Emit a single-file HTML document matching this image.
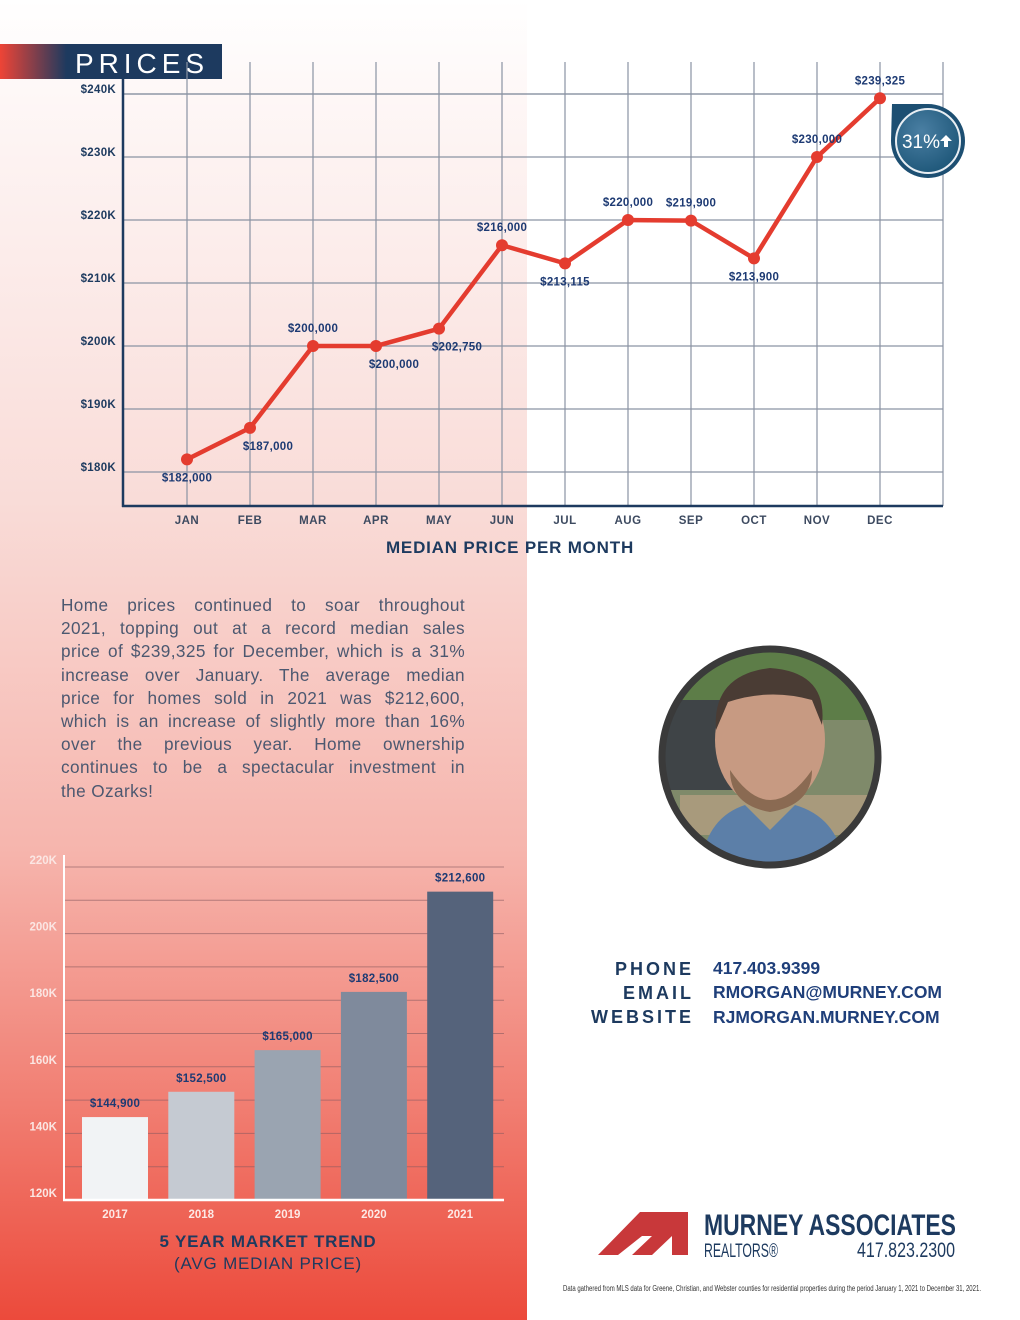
<!DOCTYPE html>
<html><head><meta charset="utf-8"><style>
body{margin:0;width:1020px;height:1320px;position:relative;background:#fff;font-family:"Liberation Sans",sans-serif;overflow:hidden}
#bg{position:absolute;left:0;top:0;width:527px;height:1320px;background:linear-gradient(to bottom,#ffffff 0px,#fdf3f2 150px,#f9dcd8 500px,#f6b5ad 850px,#f17f73 1100px,#ec4a3b 1320px)}
svg{position:absolute;left:0;top:0}
#para{position:absolute;left:61px;top:594px;width:404px;font-size:17.2px;line-height:23.2px;color:#4c5870;letter-spacing:0.4px}
#para div{text-align:justify;text-align-last:justify;white-space:nowrap;height:23.2px}
#para div.last{text-align-last:left}
.lab{position:absolute;font-weight:bold;color:#1d3a5f;font-size:18px;letter-spacing:3px;text-align:right;width:200px;left:494px}
.val{position:absolute;left:713px;font-weight:bold;color:#1f3f7a;font-size:17.5px}
</style></head><body>
<div id="bg"></div>
<svg width="1020" height="1320" id="svg">
<defs><linearGradient id="hg" x1="0" x2="1"><stop offset="0" stop-color="#ee4436"/><stop offset="0.3" stop-color="#1d3a5f"/><stop offset="1" stop-color="#1d3a5f"/></linearGradient>
<radialGradient id="bd" cx="0.4" cy="0.35" r="0.7"><stop offset="0" stop-color="#4a7fa3"/><stop offset="1" stop-color="#1d5678"/></radialGradient></defs>
<rect x="0" y="44" width="222" height="35" fill="url(#hg)"/>
<text x="75" y="73" font-size="28" fill="#fff" letter-spacing="4" font-family="Liberation Sans" textLength="133" lengthAdjust="spacing">PRICES</text>
<g id="line-chart"></g>
<g id="bar-chart"></g>
<g>
<path d="M892,104 L928,104 A37,37 0 1 1 891,141 Z" fill="#1d4f72"/>
<circle cx="928" cy="141" r="32" fill="url(#bd)" stroke="#e8eef3" stroke-width="2"/>
<text x="921" y="148" font-size="19" fill="#fff" text-anchor="middle" font-family="Liberation Sans">31%</text>
<path d="M946,135 l-6,6 h4 v6 h4 v-6 h4 z" fill="#fff"/>
</g>
<g>
<clipPath id="pc"><circle cx="770" cy="757" r="105"/></clipPath>
<g clip-path="url(#pc)">
<rect x="660" y="650" width="220" height="220" fill="#7f8a6a"/>
<rect x="660" y="650" width="220" height="70" fill="#5d7d48"/>
<rect x="665" y="700" width="70" height="90" fill="#3f4447"/>
<rect x="680" y="795" width="200" height="40" fill="#a89a7c"/>
<ellipse cx="770" cy="740" rx="55" ry="68" fill="#c79a82"/>
<path d="M716,730 Q712,675 770,668 Q828,672 822,725 L812,700 Q770,688 728,702 Z" fill="#4a3c34"/>
<path d="M730,770 Q770,830 812,770 Q812,805 770,812 Q730,805 730,770Z" fill="#8a6a52"/>
<path d="M700,870 Q705,818 745,805 L770,830 L795,805 Q840,818 845,870Z" fill="#5c7fa8"/>
</g>
<circle cx="770" cy="757" r="108" fill="none" stroke="#3a3a3a" stroke-width="7"/>
</g>
<g>
<path d="M598,1255 L640,1212 L688,1212 L688,1255 L672,1255 L672,1236 L652,1255 L632,1255 L652,1236 L642,1236 L618,1255Z" fill="#c8383a"/>
<text x="704" y="1235" font-size="30" font-weight="bold" fill="#1d3a5f" font-family="Liberation Sans" textLength="252" lengthAdjust="spacingAndGlyphs">MURNEY ASSOCIATES</text>
<text x="704" y="1257" font-size="19" fill="#1d3a5f" font-family="Liberation Sans" textLength="74" lengthAdjust="spacingAndGlyphs">REALTORS®</text>
<text x="955" y="1257" font-size="21" fill="#1d3a5f" text-anchor="end" font-family="Liberation Sans" textLength="98" lengthAdjust="spacingAndGlyphs">417.823.2300</text>
</g>
<text x="563" y="1291" font-size="8" fill="#333" font-family="Liberation Sans" textLength="418" lengthAdjust="spacingAndGlyphs">Data gathered from MLS data for Greene, Christian, and Webster counties  for residential properties during the period January 1, 2021 to December 31, 2021.</text>
</svg>
<div id="para">
<div>Home prices continued to soar throughout</div>
<div>2021, topping out at a record median sales</div>
<div>price of $239,325 for December, which is a 31%</div>
<div>increase over January. The average median</div>
<div>price for homes sold in 2021 was $212,600,</div>
<div>which is an increase of slightly more than 16%</div>
<div>over the previous year. Home ownership</div>
<div>continues to be a spectacular investment in</div>
<div class="last">the Ozarks!</div>
</div>
<div class="lab" style="top:959px">PHONE</div>
<div class="lab" style="top:983px">EMAIL</div>
<div class="lab" style="top:1007px">WEBSITE</div>
<div class="val" style="top:958px">417.403.9399</div>
<div class="val" style="top:982px">RMORGAN@MURNEY.COM</div>
<div class="val" style="top:1007px">RJMORGAN.MURNEY.COM</div>
<script>
const months=["JAN","FEB","MAR","APR","MAY","JUN","JUL","AUG","SEP","OCT","NOV","DEC"];
const prices=[182000,187000,200000,200000,202750,216000,213115,220000,219900,213900,230000,239325];
const priceLabels=["$182,000","$187,000","$200,000","$200,000","$202,750","$216,000","$213,115","$220,000","$219,900","$213,900","$230,000","$239,325"];
const labelSide=["b","b","a","b","b","a","b","a","a","b","a","a"];
const yTicks=[180000,190000,200000,210000,220000,230000,240000];
const yTickLabels=["$180K","$190K","$200K","$210K","$220K","$230K","$240K"];
const years=["2017","2018","2019","2020","2021"];
const avgPrices=[144900,152500,165000,182500,212600];
const avgLabels=["$144,900","$152,500","$165,000","$182,500","$212,600"];
const barTicks=[120000,140000,160000,180000,200000,220000];
const barTickLabels=["120K","140K","160K","180K","200K","220K"];
const barColors=["#f1f3f5","#c5cad2","#9aa4b1","#7f8a9c","#55637b"];

const NS="http://www.w3.org/2000/svg";
function mk(p,t,a,txt){const e=document.createElementNS(NS,t);for(const k in a)e.setAttribute(k,a[k]);if(txt!=null)e.textContent=txt;p.appendChild(e);return e;}
const lc=document.getElementById('line-chart');
const yS=v=>472-(v-180000)/10000*63;
const xM=i=>187+i*63.0;
for(let i=0;i<months.length;i++){const g=mk(lc,'line',{x1:xM(i),x2:xM(i),y1:62,y2:506,stroke:'#8a93a3','stroke-width':1.2});

}
mk(lc,'line',{x1:943,x2:943,y1:62,y2:506,stroke:'#8a93a3','stroke-width':1.2});
mk(lc,'line',{x1:123,x2:943,y1:94,y2:94,stroke:'#8a93a3','stroke-width':1.2});
for(let i=0;i<yTicks.length;i++){const y=yS(yTicks[i]);
mk(lc,'line',{x1:123,x2:943,y1:y,y2:y,stroke:'#8a93a3','stroke-width':1.2});
const t=mk(lc,'text',{x:116,y:y-1,'text-anchor':'end','font-size':11.5,'font-weight':'bold',fill:'#1d3a5f','letter-spacing':0.3},yTickLabels[i]);

}
mk(lc,'line',{x1:123,x2:123,y1:62,y2:507,stroke:'#1d3a5f','stroke-width':2.5});
mk(lc,'line',{x1:122,x2:943,y1:506,y2:506,stroke:'#1d3a5f','stroke-width':2.5});
for(let i=0;i<months.length;i++){const t=mk(lc,'text',{x:xM(i),y:524,'text-anchor':'middle','font-size':11.5,'font-weight':'bold',fill:'#3d4a60','letter-spacing':0.5},months[i]);

}
const tt=mk(lc,'text',{x:510,y:553,'text-anchor':'middle','font-size':17,'font-weight':'bold',fill:'#1d3a5f','letter-spacing':0.8},'MEDIAN PRICE PER MONTH');


const pl=mk(lc,'polyline',{points:prices.map((v,i)=>xM(i)+','+yS(v)).join(' '),fill:'none',stroke:'#e43c2f','stroke-width':4.5,'stroke-linejoin':'round'});


for(let i=0;i<prices.length;i++){const c=mk(lc,'circle',{cx:xM(i),cy:yS(prices[i]),r:6,fill:'#e43c2f'});


const dy=labelSide[i]=='a'?-14:22;
const t=mk(lc,'text',{x:xM(i)+(labelSide[i]=='b'&&i>0&&i<5?18:0),y:yS(prices[i])+dy,'text-anchor':'middle','font-size':11.5,'font-weight':'bold',fill:'#1d3a73','letter-spacing':0.3},priceLabels[i]);

}
const bc=document.getElementById('bar-chart');
const bY=v=>1200-(v-120000)/20000*66.6;
const bX=i=>82+i*86.3;
for(let k=1;k<=10;k++){const y=1200-k*33.3;mk(bc,'line',{x1:64,x2:504,y1:y,y2:y,stroke:'#8a5a60','stroke-width':1,opacity:0.6});}
for(let i=0;i<barTicks.length;i++){const t=mk(bc,'text',{x:57,y:bY(barTicks[i])-3,'text-anchor':'end','font-size':11.5,'font-weight':'bold',fill:'#fbe6e3'},barTickLabels[i]);

}
mk(bc,'line',{x1:64,x2:64,y1:855,y2:1201,stroke:'#fff','stroke-width':2});
for(let i=0;i<years.length;i++){const y=bY(avgPrices[i]);
const r=mk(bc,'rect',{x:bX(i),y:y,width:66,height:1200-y,fill:barColors[i]});


const t=mk(bc,'text',{x:bX(i)+33,y:y-10,'text-anchor':'middle','font-size':11.5,'font-weight':'bold',fill:'#1d3a73','letter-spacing':0.3},avgLabels[i]);


const yl=mk(bc,'text',{x:bX(i)+33,y:1218,'text-anchor':'middle','font-size':11.5,'font-weight':'bold',fill:'#fde8e5'},years[i]);

}
mk(bc,'line',{x1:63,x2:504,y1:1200,y2:1200,stroke:'#fff','stroke-width':2.5});
const b1=mk(bc,'text',{x:268,y:1247,'text-anchor':'middle','font-size':17,'font-weight':'bold',fill:'#1d3a5f','letter-spacing':0.8},'5 YEAR MARKET TREND');


const b2=mk(bc,'text',{x:268,y:1269,'text-anchor':'middle','font-size':17,fill:'#1d3a5f','letter-spacing':0.8},'(AVG MEDIAN PRICE)');


</script>
</body></html>
